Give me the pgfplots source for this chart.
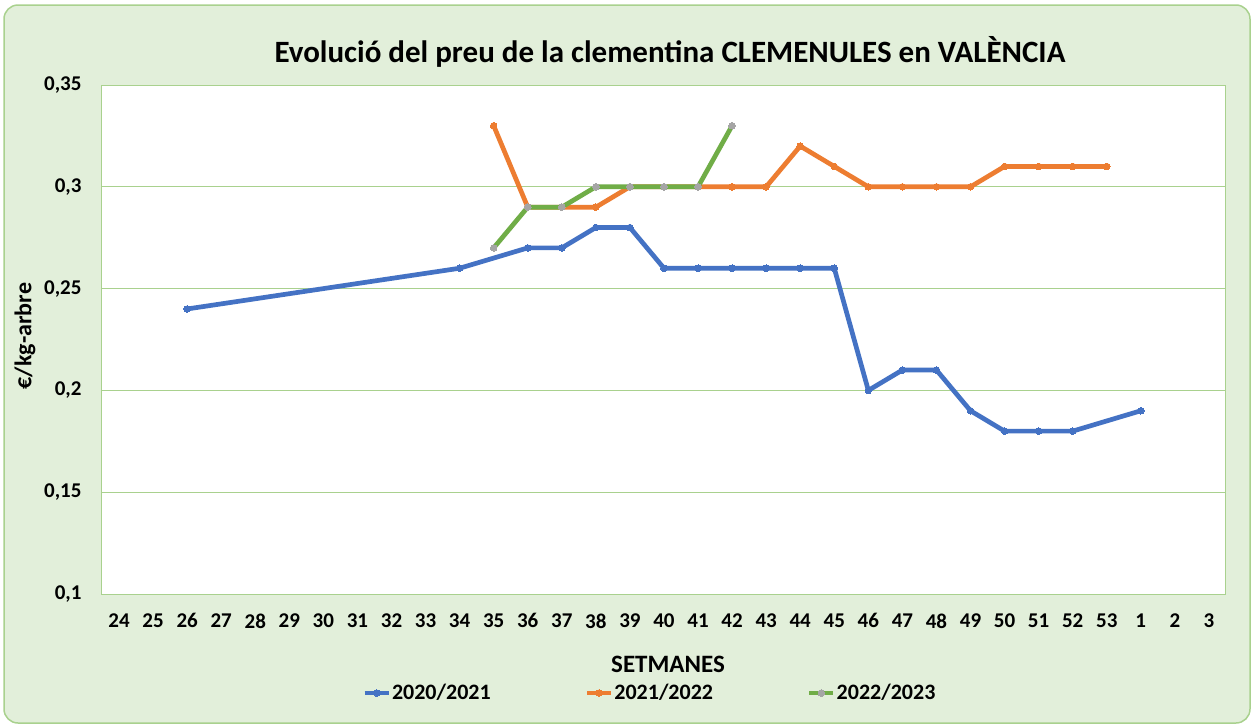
\documentclass[border=0pt]{standalone}
\usepackage{fontspec}
\setmainfont{Carlito}
\usepackage{pgfplots}
\pgfplotsset{compat=1.18}
\definecolor{bgc}{HTML}{E2EFDA}
\definecolor{brd}{HTML}{A9D18E}
\definecolor{c1}{HTML}{4472C4}
\definecolor{c2}{HTML}{ED7D31}
\definecolor{c3}{HTML}{70AD47}
\definecolor{mk}{HTML}{A5A5A5}
\begin{document}
\begin{tikzpicture}[x=1pt,y=1pt]
\path[use as bounding box] (0,0) rectangle (1253,-726);
\fill[bgc, draw=brd, line width=1.5pt, rounded corners=14pt] (4,-5) rectangle (1250,-723);
\node[font=\bfseries\fontsize{31}{36}\selectfont] at (670,-52) {Evolució del preu de la clementina CLEMENULES en VALÈNCIA};
\node[rotate=90, font=\bfseries\fontsize{24}{28}\selectfont] at (25,-336) {€/kg-arbre};
\node[font=\bfseries\fontsize{25}{30}\selectfont] at (668,-664) {SETMANES};
\begin{axis}[
  at={(102pt,-594pt)}, anchor=south west,
  scale only axis, width=1124pt, height=509pt,
  xmin=-0.5, xmax=32.5, ymin=0.1, ymax=0.35,
  xtick={0,...,32},
  xticklabels={24,25,26,27,28,29,30,31,32,33,34,35,36,37,38,39,40,41,42,43,44,45,46,47,48,49,50,51,52,53,1,2,3},
  ytick={0.1,0.15,0.2,0.25,0.3,0.35},
  yticklabels={{0,1},{0,15},{0,2},{0,25},{0,3},{0,35}},
  major tick length=0pt,
  axis line style={brd, line width=1pt},
  axis background/.style={fill=white},
  ymajorgrids, grid style={brd, line width=1pt},
  xticklabel style={font=\bfseries\fontsize{21}{24}\selectfont, yshift=-16pt},
  yticklabel style={font=\bfseries\fontsize{21}{24}\selectfont, xshift=-17pt},
  legend columns=3,
  legend style={at={(0.487,-0.1945)}, anchor=center, draw=none, fill=none,
    font=\bfseries\fontsize{22}{26}\selectfont,
    /tikz/every even column/.append style={column sep=93pt},
    nodes={inner sep=1pt}},
  legend image code/.code={\draw[mark repeat=2,mark phase=2,#1] plot coordinates {(0pt,0pt)(12pt,0pt)(24pt,0pt)};},
]
\addplot[c1, line width=4.7pt, mark=*, mark size=3.3pt, mark options={fill=c1, draw=c1, line width=0pt}] coordinates {
(2,0.24)(10,0.26)(12,0.27)(13,0.27)(14,0.28)(15,0.28)(16,0.26)(17,0.26)(18,0.26)(19,0.26)(20,0.26)(21,0.26)(22,0.20)(23,0.21)(24,0.21)(25,0.19)(26,0.18)(27,0.18)(28,0.18)(30,0.19)};
\addlegendentry{2020/2021}
\addplot[c2, line width=4.7pt, mark=*, mark size=3.3pt, mark options={fill=c2, draw=c2, line width=0pt}] coordinates {
(11,0.33)(12,0.29)(13,0.29)(14,0.29)(15,0.30)(16,0.30)(17,0.30)(18,0.30)(19,0.30)(20,0.32)(21,0.31)(22,0.30)(23,0.30)(24,0.30)(25,0.30)(26,0.31)(27,0.31)(28,0.31)(29,0.31)};
\addlegendentry{2021/2022}
\addplot[c3, line width=4.7pt, mark=*, mark size=3.3pt, mark options={fill=mk, draw=mk, line width=0pt}] coordinates {
(11,0.27)(12,0.29)(13,0.29)(14,0.30)(15,0.30)(16,0.30)(17,0.30)(18,0.33)};
\addlegendentry{2022/2023}
\end{axis}
\end{tikzpicture}
\end{document}
